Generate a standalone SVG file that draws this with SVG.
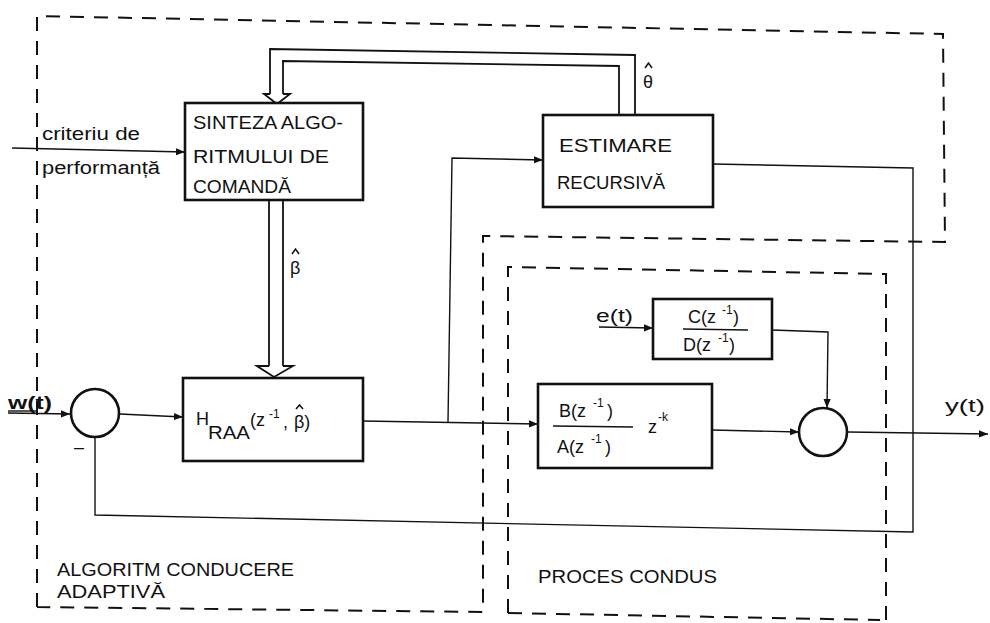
<svg xmlns="http://www.w3.org/2000/svg" width="990" height="623" viewBox="0 0 990 623">
<style>
.bg{fill:#fff}
.box{fill:#fff;stroke:#111;stroke-width:2.6}
.ln{fill:none;stroke:#111;stroke-width:1.4}
.dl{fill:none;stroke:#111;stroke-width:2;stroke-dasharray:14 10}
.dbl{fill:none;stroke:#111;stroke-width:1.8}
.head{fill:#fff;stroke:#111;stroke-width:1.8;stroke-linejoin:miter}
.hat{fill:none;stroke:#111;stroke-width:1.5}
.t{font-family:"Liberation Sans",Arial,sans-serif;font-size:18px;fill:#111}
.s{font-family:"Liberation Sans",Arial,sans-serif;font-size:12px;fill:#111}
</style>
<defs>
<marker id="ar" viewBox="0 0 10 10" refX="10" refY="5" markerWidth="9" markerHeight="9" markerUnits="userSpaceOnUse" orient="auto">
<path d="M0,1 L10,5 L0,9 z" fill="#111"/>
</marker>
</defs>
<rect class="bg" x="0" y="0" width="990" height="623"/>

<g id="boundaries">
<path class="dl" d="M37,607 L37,16 L943,34 L945,242 L483,236 L483,612 L37,607"/>
<path class="dl" d="M508,613 L508,267 L886,274 L886,623"/>
<path class="dl" d="M508,613 L880,620"/>
</g>

<g id="connectors">
<path class="ln" d="M12,148 L185,152" marker-end="url(#ar)"/>
<path class="ln" d="M8,413 L70,414" marker-end="url(#ar)"/>
<path class="ln" d="M120,414 L183,417" marker-end="url(#ar)"/>
<path class="ln" d="M363,421 L538,424" marker-end="url(#ar)"/>
<path class="ln" d="M448,422 L452,158 L543,160" marker-end="url(#ar)"/>
<path class="ln" d="M712,430 L799,432" marker-end="url(#ar)"/>
<path class="ln" d="M599,327 L653,328" marker-end="url(#ar)"/>
<path class="ln" d="M772,330 L828,332 L827,408" marker-end="url(#ar)"/>
<path class="ln" d="M848,432 L988,434" marker-end="url(#ar)"/>
<path class="ln" d="M713,164 L913,168 L913,532 L95,515 L95,437"/>
<path class="dbl" d="M635,115 L635,55 L270,49 L270,94"/>
<path class="dbl" d="M619,115 L619,66 L283,61 L283,94"/>
<path class="head" d="M270,94 L264,94 L277,104 L290,94 L283,94"/>
<path class="dbl" d="M269,200 L269,366"/>
<path class="dbl" d="M283,200 L283,366"/>
<path class="head" d="M269,366 L257,366 L274,377 L293,366 L283,366"/>
</g>

<g id="sinteza">
<rect class="box" x="185" y="103" width="178" height="97"/>
<text class="t" x="193" y="129" textLength="150" lengthAdjust="spacingAndGlyphs">SINTEZA ALGO-</text>
<text class="t" x="193" y="163" textLength="136" lengthAdjust="spacingAndGlyphs">RITMULUI  DE</text>
<text class="t" x="193" y="193" textLength="98" lengthAdjust="spacingAndGlyphs">COMANDĂ</text>
</g>

<g id="estimare">
<rect class="box" x="543" y="115" width="170" height="92"/>
<text class="t" x="559" y="152" textLength="113" lengthAdjust="spacingAndGlyphs">ESTIMARE</text>
<text class="t" x="557" y="189" textLength="108" lengthAdjust="spacingAndGlyphs">RECURSIVĂ</text>
</g>

<g id="regulator">
<rect class="box" x="183" y="378" width="180" height="83"/>
<text class="t" x="196" y="425">H</text>
<text class="t" x="208" y="439" textLength="42" lengthAdjust="spacingAndGlyphs">RAA</text>
<text class="t" x="250" y="426">(z</text>
<text class="s" x="269" y="418">-1</text>
<text class="t" x="283" y="428">,</text>
<text class="t" x="294" y="428">β)</text>
<polyline class="hat" points="296,409 299.5,405 303,409"/>
</g>

<g id="sum1">
<circle class="box" cx="95" cy="413" r="24"/>
</g>

<g id="proces">
<rect class="box" x="538" y="384" width="174" height="84"/>
<text class="t" x="559" y="417">B(z</text>
<text class="s" x="593" y="407">-1</text>
<text class="t" x="607" y="417"> )</text>
<line class="ln" x1="553" y1="426" x2="633" y2="427"/>
<text class="t" x="557" y="453">A(z</text>
<text class="s" x="591" y="443">-1</text>
<text class="t" x="605" y="453"> )</text>
<text class="t" x="648" y="433">z</text>
<text class="s" x="658" y="421">-k</text>
</g>

<g id="perturbatie">
<rect class="box" x="653" y="299" width="119" height="60"/>
<text class="t" x="688" y="323">C(z</text>
<text class="s" x="722" y="314">-1</text>
<text class="t" x="733" y="323"> )</text>
<line class="ln" x1="683" y1="329" x2="748" y2="330"/>
<text class="t" x="683" y="351">D(z</text>
<text class="s" x="718" y="342">-1</text>
<text class="t" x="729" y="351"> )</text>
</g>

<g id="sum2">
<circle class="box" cx="823" cy="432" r="24"/>
</g>

<g id="labels">
<text class="t" x="42" y="140" textLength="98" lengthAdjust="spacingAndGlyphs">criteriu de</text>
<text class="t" x="42" y="174" textLength="118" lengthAdjust="spacingAndGlyphs">performanță</text>
<text class="t" x="8" y="409" font-weight="bold" textLength="44" lengthAdjust="spacingAndGlyphs">w(t)</text>
<line class="ln" x1="8" y1="411" x2="36" y2="411" stroke-width="2"/>
<text class="t" x="74" y="453">–</text>
<text class="t" x="290" y="274">β</text>
<polyline class="hat" points="292,254 295.5,249 299,254"/>
<text class="t" x="643" y="88">θ</text>
<polyline class="hat" points="645,68 648.5,63 652,68"/>
<text class="t" x="596" y="322" textLength="37" lengthAdjust="spacingAndGlyphs">e(t)</text>
<text class="t" x="945" y="412" textLength="40" lengthAdjust="spacingAndGlyphs">y(t)</text>
<text class="t" x="57" y="576" textLength="237" lengthAdjust="spacingAndGlyphs">ALGORITM  CONDUCERE</text>
<text class="t" x="57" y="598" textLength="108" lengthAdjust="spacingAndGlyphs">ADAPTIVĂ</text>
<text class="t" x="538" y="583" textLength="179" lengthAdjust="spacingAndGlyphs">PROCES CONDUS</text>
</g>
</svg>
